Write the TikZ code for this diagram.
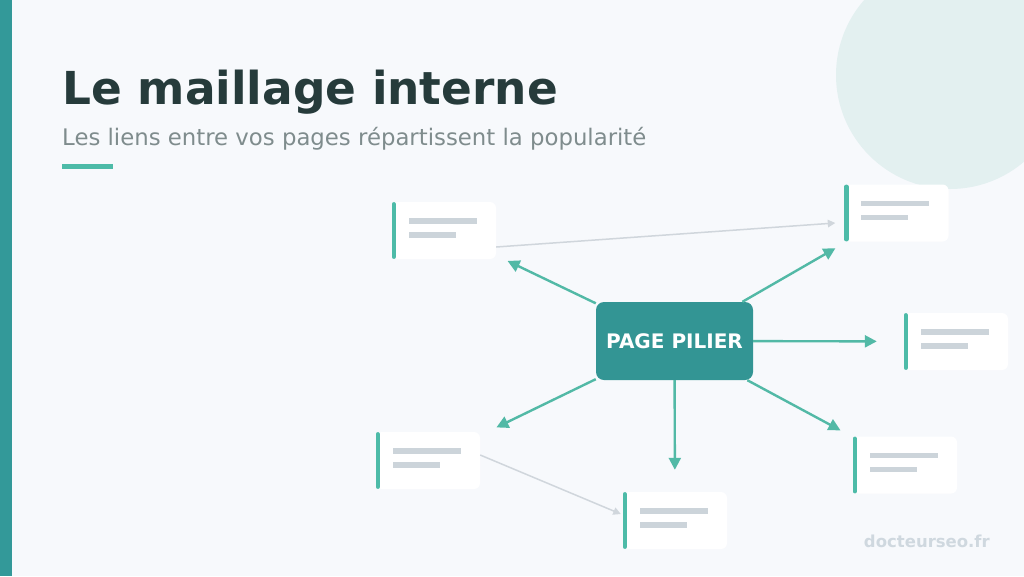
\documentclass[tikz,border=0pt]{standalone}
\usepackage{fontspec}
\setmainfont{DejaVu Sans}
\usetikzlibrary{arrows.meta}
\definecolor{bg}{HTML}{F7F9FC}
\definecolor{strip}{HTML}{339999}
\definecolor{circ}{HTML}{E3F0F0}
\definecolor{titlec}{HTML}{263B3B}
\definecolor{subc}{HTML}{7F8C8D}
\definecolor{accent}{HTML}{4DBBA8}
\definecolor{pilierc}{HTML}{339594}
\definecolor{linkc}{HTML}{52B9A6}
\definecolor{grayline}{HTML}{CCD4DA}
\definecolor{grayarrow}{HTML}{D0D6DC}
\definecolor{wm}{HTML}{CFD8DF}
\tikzset{
  card/.style={rectangle, fill=white, rounded corners=6pt, minimum width=104pt, minimum height=57pt, inner sep=0pt},
  pilier/.style={rectangle, fill=pilierc, rounded corners=8pt, minimum width=157pt, minimum height=78pt, inner sep=0pt, text=white, font=\bfseries\fontsize{20}{24}\selectfont},
  link/.style={draw=linkc, line width=2.4pt, -{Triangle[length=12pt,width=12pt]}},
  weak/.style={draw=grayarrow, line width=1.5pt, -{Triangle[length=7.5pt,width=7.5pt]}},
  cardbar/.style={draw=accent, line width=4.5pt, line cap=round},
  cardline/.style={fill=grayline},
}
\newcommand{\cardbits}[1]{%
  \draw[cardbar] ([xshift=2pt,yshift=-2.5pt]#1.north west) -- ([xshift=2pt,yshift=2.5pt]#1.south west);
  \fill[cardline] ([xshift=17pt,yshift=-16.5pt]#1.north west) rectangle ++(68pt,-5.5pt);
  \fill[cardline] ([xshift=17pt,yshift=-30.5pt]#1.north west) rectangle ++(47pt,-5.5pt);
}
\begin{document}
\begin{tikzpicture}[x=1pt,y=-1pt]
\useasboundingbox (0,0) rectangle (1024,576);
\fill[bg] (0,0) rectangle (1024,576);
\begin{scope}
  \clip (0,0) rectangle (1024,576);
  \fill[circ] (950,75) circle[radius=114pt];
\end{scope}
\fill[strip] (0,0) rectangle (12,576);

\node[anchor=base west, inner sep=0pt, text=titlec, font=\bfseries\fontsize{45.4}{54}\selectfont] (title) at (62,104) {Le maillage interne};
\node[anchor=base west, inner sep=0pt, text=subc, font=\fontsize{22.8}{27}\selectfont] (sub) at (62,145) {Les liens entre vos pages répartissent la popularité};
\fill[accent] (62,164) rectangle (113,169);

\node[card] (c1) at (444,230.5) {};
\node[card] (c2) at (896.5,213) {};
\node[card] (c3) at (956,341.5) {};
\node[card] (c4) at (905,465) {};
\node[card] (c5) at (428,460.5) {};
\node[card] (c6) at (675,520.5) {};
\cardbits{c1}\cardbits{c2}\cardbits{c3}\cardbits{c4}\cardbits{c5}\cardbits{c6}

\node[pilier] (P) at (674.5,341) {PAGE PILIER};

\draw[link, shorten >=12.6pt] (P) -- (c1);
\draw[link, shorten >=13pt] (P) -- (c2);
\draw[link, shorten >=27pt] (P) -- (c3);
\draw[link, shorten >=14pt] (P) -- (c4);
\draw[link, shorten >=18pt] (P) -- (c5);
\draw[link, shorten >=22pt] (P) -- (c6);

\draw[weak] ([yshift=-16.5pt]c1.east) -- ([xshift=-9pt,yshift=-10pt]c2.west);
\draw[weak] ([yshift=5.5pt]c5.east) -- ([xshift=-2pt,yshift=6.5pt]c6.west);

\node[anchor=base east, inner sep=0pt, text=wm, font=\bfseries\fontsize{16.5}{20}\selectfont] (wmark) at (990,547) {docteurseo.fr};
\end{tikzpicture}
\end{document}
